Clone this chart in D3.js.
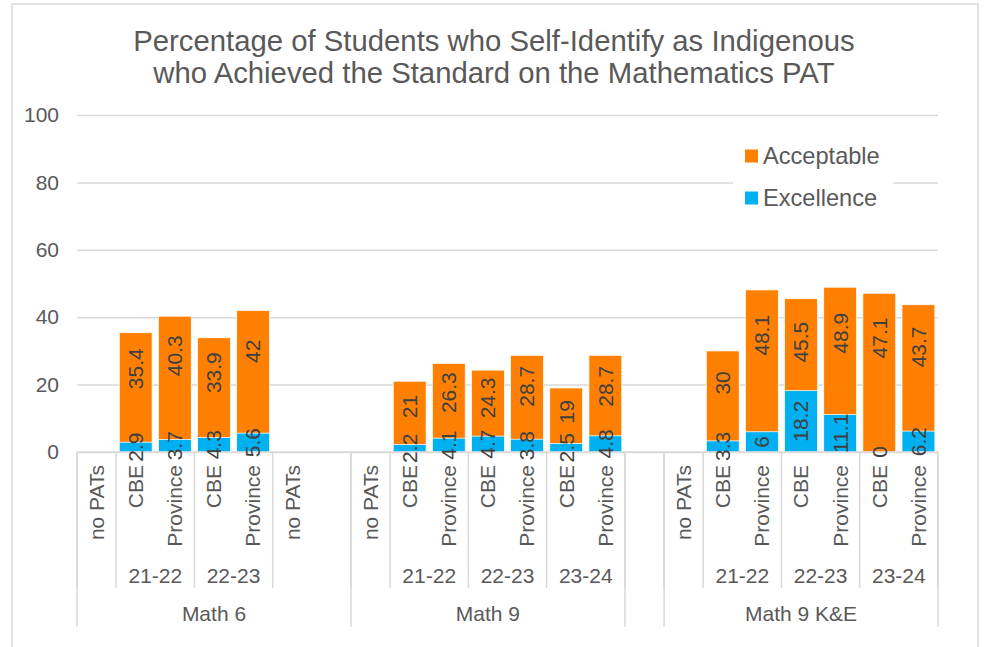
<!DOCTYPE html>
<head>
<meta charset="utf-8">
<title>Indigenous students - Mathematics PAT</title>
<script src="https://cdn.jsdelivr.net/npm/d3@7"></script>
<style type="text/css">
  body { margin: 0; background: #fff; }
  text { font-family: "Liberation Sans", Arial, sans-serif; }
  .axis text { fill: #595959; font-size: 21px; }
  .axis line { stroke: #d9d9d9; stroke-width: 1.5; }
  .axis path { display: none; }
</style>
</head>
<body>
<script type="text/javascript">

//////////// data ////////////
var leafLabels = ["no PATs", "CBE", "Province", "CBE", "Province", "no PATs", "",
                  "no PATs", "CBE", "Province", "CBE", "Province", "CBE", "Province",
                  "",
                  "no PATs", "CBE", "Province", "CBE", "Province", "CBE", "Province"];

var acceptable = [null, 35.4, 40.3, 33.9, 42, null, null,
                  null, 21, 26.3, 24.3, 28.7, 19, 28.7,
                  null,
                  null, 30, 48.1, 45.5, 48.9, 47.1, 43.7];

var excellence = [null, 2.9, 3.7, 4.3, 5.6, null, null,
                  null, 2.2, 4.1, 4.7, 3.8, 2.5, 4.8,
                  null,
                  null, 3.3, 6, 18.2, 11.1, 0, 6.2];

// second level of the category axis (school year) and how many bars each one covers
var yearLabels = ["", "21-22", "22-23", "",  "", "21-22", "22-23", "23-24",  "",  "", "21-22", "22-23", "23-24"];
var yearSpans  = [1, 2, 2, 2,  1, 2, 2, 2,  1,  1, 2, 2, 2];

// first level (course)
var courseLabels = ["Math 6", "Math 9", "", "Math 9 K&E"];
var courseSpans  = [7, 7, 1, 7];

var yTicks = [0, 20, 40, 60, 80, 100];
var seriesNames = ["Acceptable", "Excellence"];
var colors = {Acceptable: "#FF8000", Excellence: "#00B0F0"};

var titleLines = ["Percentage of Students who Self-Identify as Indigenous",
                  "who Achieved the Standard on the Mathematics PAT"];

//////////// sizes ////////////
var w = 984, h = 647;
var plot = {left: 77, right: 938, top: 115, bottom: 452};

var svg = d3.select("body").append("svg")
    .attr("width", w)
    .attr("height", h);

svg.append("rect").attr("width", w).attr("height", h).attr("fill", "#fff");

// chart frame (runs off the bottom like in the picture)
svg.append("rect")
    .attr("x", 12).attr("y", 4)
    .attr("width", 966).attr("height", 670)
    .attr("fill", "none")
    .attr("stroke", "#d9d9d9")
    .attr("stroke-width", 1.5);

//////////// scales ////////////
var idx = d3.range(leafLabels.length);

var x = d3.scaleBand()
    .domain(idx)
    .range([plot.left, plot.right])
    .paddingInner(0.16)
    .paddingOuter(0.08);

// bar boundaries for the multi level axis
var xb = d3.scaleLinear()
    .domain([0, leafLabels.length])
    .range([plot.left, plot.right]);

var y = d3.scaleLinear()
    .domain([0, 100])
    .range([plot.bottom, plot.top]);

//////////// title ////////////
svg.append("g").selectAll("text")
    .data(titleLines)
    .enter().append("text")
    .attr("x", 494)
    .attr("y", function(d, i) { return 51 + i * 32; })
    .attr("text-anchor", "middle")
    .attr("fill", "#595959")
    .style("font-size", "29.3px")
    .text(function(d) { return d; });

//////////// y axis + gridlines ////////////
var yAxis = d3.axisLeft(y)
    .tickValues(yTicks)
    .tickSize(-(plot.right - plot.left))
    .tickPadding(18);

svg.append("g")
    .attr("class", "axis")
    .attr("transform", "translate(" + plot.left + ",0)")
    .call(yAxis);

//////////// bars ////////////
var rows = idx.filter(function(i) { return acceptable[i] != null; });

var bar = svg.append("g").selectAll(".bar")
    .data(rows)
    .enter().append("g")
    .attr("class", "bar");

// both series start at 0, excellence drawn in front (100% overlap)
bar.append("rect")
    .attr("x", function(i) { return x(i); })
    .attr("width", x.bandwidth())
    .attr("y", function(i) { return y(acceptable[i]); })
    .attr("height", function(i) { return y(0) - y(acceptable[i]); })
    .attr("fill", colors.Acceptable)
    .attr("stroke", "#fff")
    .attr("stroke-width", 0.75);

bar.append("rect")
    .attr("x", function(i) { return x(i); })
    .attr("width", x.bandwidth())
    .attr("y", function(i) { return y(excellence[i]); })
    .attr("height", function(i) { return y(0) - y(excellence[i]); })
    .attr("fill", colors.Excellence)
    .attr("stroke", "#fff")
    .attr("stroke-width", 0.75);

//////////// category axis ////////////
var cat = svg.append("g").attr("class", "axis");

cat.append("line")
    .attr("x1", plot.left).attr("x2", plot.right)
    .attr("y1", plot.bottom).attr("y2", plot.bottom);

// leaf labels, rotated
cat.selectAll(".leaf")
    .data(idx)
    .enter().append("text")
    .attr("class", "leaf")
    .attr("transform", function(i) {
        return "translate(" + (x(i) + x.bandwidth() / 2) + "," + 465 + ") rotate(-90)";
    })
    .attr("dy", "0.35em")
    .attr("text-anchor", "end")
    .text(function(i) { return leafLabels[i]; });

// year level
var yearStart = d3.cumsum([0].concat(yearSpans));
cat.selectAll(".year")
    .data(yearLabels)
    .enter().append("text")
    .attr("class", "year")
    .attr("x", function(d, i) { return (xb(yearStart[i]) + xb(yearStart[i + 1])) / 2; })
    .attr("y", 583)
    .attr("text-anchor", "middle")
    .text(function(d) { return d; });

cat.selectAll(".yearsep")
    .data(yearStart)
    .enter().append("line")
    .attr("x1", function(d) { return xb(d); })
    .attr("x2", function(d) { return xb(d); })
    .attr("y1", plot.bottom).attr("y2", 588);

// course level
var courseStart = d3.cumsum([0].concat(courseSpans));
cat.selectAll(".course")
    .data(courseLabels)
    .enter().append("text")
    .attr("class", "course")
    .attr("x", function(d, i) { return (xb(courseStart[i]) + xb(courseStart[i + 1])) / 2; })
    .attr("y", 621)
    .attr("text-anchor", "middle")
    .text(function(d) { return d; });

cat.selectAll(".coursesep")
    .data(courseStart)
    .enter().append("line")
    .attr("x1", function(d) { return xb(d); })
    .attr("x2", function(d) { return xb(d); })
    .attr("y1", plot.bottom).attr("y2", 627);

//////////// data labels ////////////
var labels = svg.append("g")
    .attr("fill", "#404040")
    .style("font-size", "21px");

// acceptable labels sit in the upper part of the bar, roughly where excel put them
labels.selectAll(".lblA")
    .data(rows)
    .enter().append("text")
    .attr("transform", function(i) {
        return "translate(" + (x(i) + x.bandwidth() / 2) + "," + y(acceptable[i] * 0.78 - 2.9) + ") rotate(-90)";
    })
    .attr("dy", "0.35em")
    .attr("text-anchor", "middle")
    .text(function(i) { return acceptable[i]; });

labels.selectAll(".lblE")
    .data(rows)
    .enter().append("text")
    .attr("transform", function(i) {
        return "translate(" + (x(i) + x.bandwidth() / 2) + "," + y(excellence[i] / 2) + ") rotate(-90)";
    })
    .attr("dy", "0.35em")
    .attr("text-anchor", "middle")
    .text(function(i) { return excellence[i]; });

//////////// legend ////////////
var legend = svg.append("g").attr("transform", "translate(733,136)");

legend.append("rect")
    .attr("width", 160).attr("height", 84)
    .attr("fill", "#fff");

var item = legend.selectAll(".item")
    .data(seriesNames)
    .enter().append("g")
    .attr("transform", function(d, i) { return "translate(12," + (20 + i * 42) + ")"; });

item.append("rect")
    .attr("y", -6.5)
    .attr("width", 13).attr("height", 13)
    .attr("fill", function(d) { return colors[d]; });

item.append("text")
    .attr("x", 18)
    .attr("dy", "0.35em")
    .attr("fill", "#595959")
    .style("font-size", "23.6px")
    .text(function(d) { return d; });

</script>
</body>
